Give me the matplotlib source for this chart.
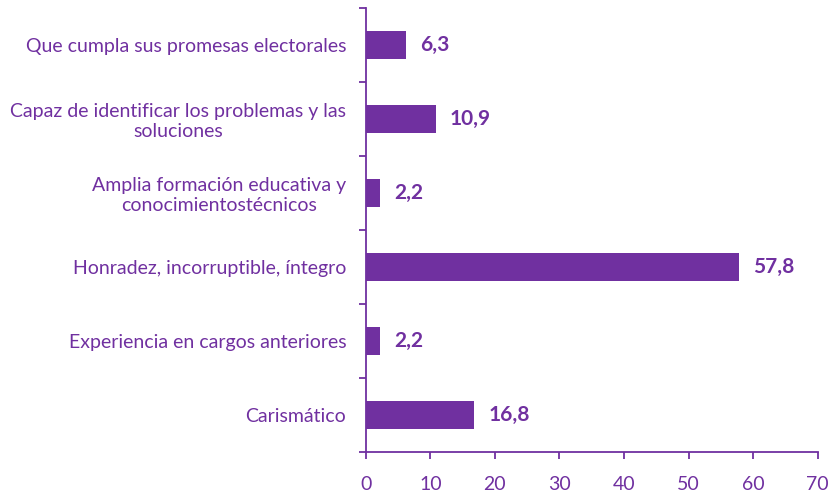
import matplotlib.pyplot as plt
import numpy as np

categorias = ['Que cumpla sus promesas electorales',
              'Capaz de identificar los problemas y las\nsoluciones',
              'Amplia formación educativa y\nconocimientostécnicos',
              'Honradez, incorruptible, íntegro',
              'Experiencia en cargos anteriores',
              'Carismático']
valores = [6.3, 10.9, 2.2, 57.8, 2.2, 16.8]
etiquetas = ['6,3', '10,9', '2,2', '57,8', '2,2', '16,8']

morado = '#7030A0'
plt.rcParams['font.family'] = ['Lato', 'DejaVu Sans']

fig = plt.figure(figsize=(8.37, 4.95), dpi=100)
ax = fig.add_axes([0.437, 0.087, 0.54, 0.897])

pos = np.arange(len(categorias))[::-1]
ax.barh(pos, valores, height=0.38, color=morado)
for p, v, t in zip(pos, valores, etiquetas):
    ax.annotate(t, (v, p), xytext=(10, 0), textcoords='offset points',
                va='center', ha='left', fontsize=15, fontweight='bold', color=morado)

ax.set_xlim(0, 70)
ax.set_ylim(-0.5, len(categorias) - 0.5)
ax.set_xticks(np.arange(0, 71, 10))
ax.set_yticks(pos)
ax.set_yticklabels(categorias, multialignment='center')
ax.set_yticks(np.arange(-0.5, len(categorias), 1), minor=True)

for s in ['top', 'right']:
    ax.spines[s].set_visible(False)
for s in ['left', 'bottom']:
    ax.spines[s].set_color(morado)
    ax.spines[s].set_linewidth(1.3)

ax.tick_params(axis='y', which='major', length=0, pad=14, labelsize=14, labelcolor=morado)
ax.tick_params(axis='y', which='minor', length=5, width=1.3, color=morado)
ax.tick_params(axis='x', length=5, width=1.3, color=morado, pad=12, labelsize=14, labelcolor=morado)

plt.savefig('out.png')
